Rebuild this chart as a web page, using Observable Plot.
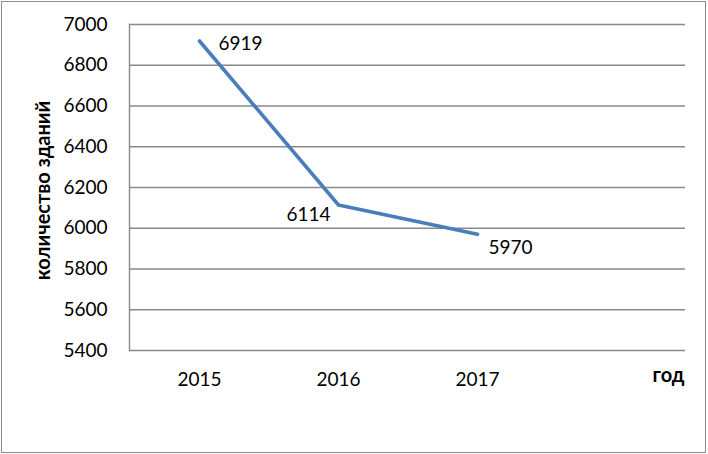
<!DOCTYPE html>
<html>
<head>
<meta charset="utf-8">
<script src="https://cdn.jsdelivr.net/npm/d3@7"></script>
<script src="https://cdn.jsdelivr.net/npm/@observablehq/plot@0.6"></script>
<style>
  html, body { margin: 0; padding: 0; background: #fff; }
  #wrap { position: relative; width: 708px; height: 454px; }
  #border { position: absolute; left: 1px; top: 1px; width: 705px; height: 452px; box-sizing: border-box; border: 1.5px solid #8c8c8c; pointer-events: none; }
</style>
</head>
<body>
<div id="wrap"><div id="border"></div></div>
<script>
const years = ["2015", "2016", "2017"];
const counts = [6919, 6114, 5970];
const yTicks = [5400, 5600, 5800, 6000, 6200, 6400, 6600, 6800, 7000];
const xDomain = [...years, ""];
const yTitle = "количество зданий";
const xTitle = "год";

const data = years.map((y, i) => ({year: y, count: counts[i]}));
const font = "Lato, 'Open Sans', sans-serif";

const chart = Plot.plot({
  width: 708,
  height: 454,
  marginLeft: 129,
  marginRight: 23,
  marginTop: 24,
  marginBottom: 104,
  style: {fontFamily: font, fontSize: "19px", color: "#000", background: "transparent"},
  x: {type: "point", domain: xDomain, padding: 0.5, align: 0.5, axis: null},
  y: {domain: [5400, 7000], axis: null},
  marks: [
    Plot.ruleY(yTicks, {stroke: "#898989", strokeWidth: 1.4, strokeOpacity: 1}),
    Plot.frame({anchor: "left", stroke: "#898989", strokeWidth: 1.4}),
    Plot.axisY(yTicks, {tickSize: 0, tickPadding: 22, label: null, fontSize: 19, tickFormat: "d"}),
    Plot.axisX(years, {tickSize: 0, tickPadding: 22, label: null, fontSize: 19}),
    Plot.line(data, {x: "year", y: "count", stroke: "#4a7ebb", strokeWidth: 3.6}),
    Plot.text(data, {filter: (d, i) => i === 0, x: "year", y: "count", text: d => String(d.count), textAnchor: "start", dx: 19, dy: 3, fontSize: 19}),
    Plot.text(data, {filter: (d, i) => i === 1, x: "year", y: "count", text: d => String(d.count), textAnchor: "end", dx: -8, dy: 10, fontSize: 19}),
    Plot.text(data, {filter: (d, i) => i === 2, x: "year", y: "count", text: d => String(d.count), textAnchor: "start", dx: 11, dy: 14, fontSize: 19}),
    Plot.text([yTitle], {frameAnchor: "left", text: d => d, rotate: -90, textAnchor: "middle", dx: -86, dy: 3, fontWeight: "bold", fontSize: 20}),
    Plot.text([xTitle], {frameAnchor: "bottom-right", text: d => d, textAnchor: "end", dy: 31, dx: -1, fontWeight: "bold", fontSize: 20})
  ]
});
document.getElementById("wrap").prepend(chart);
</script>
</body>
</html>
